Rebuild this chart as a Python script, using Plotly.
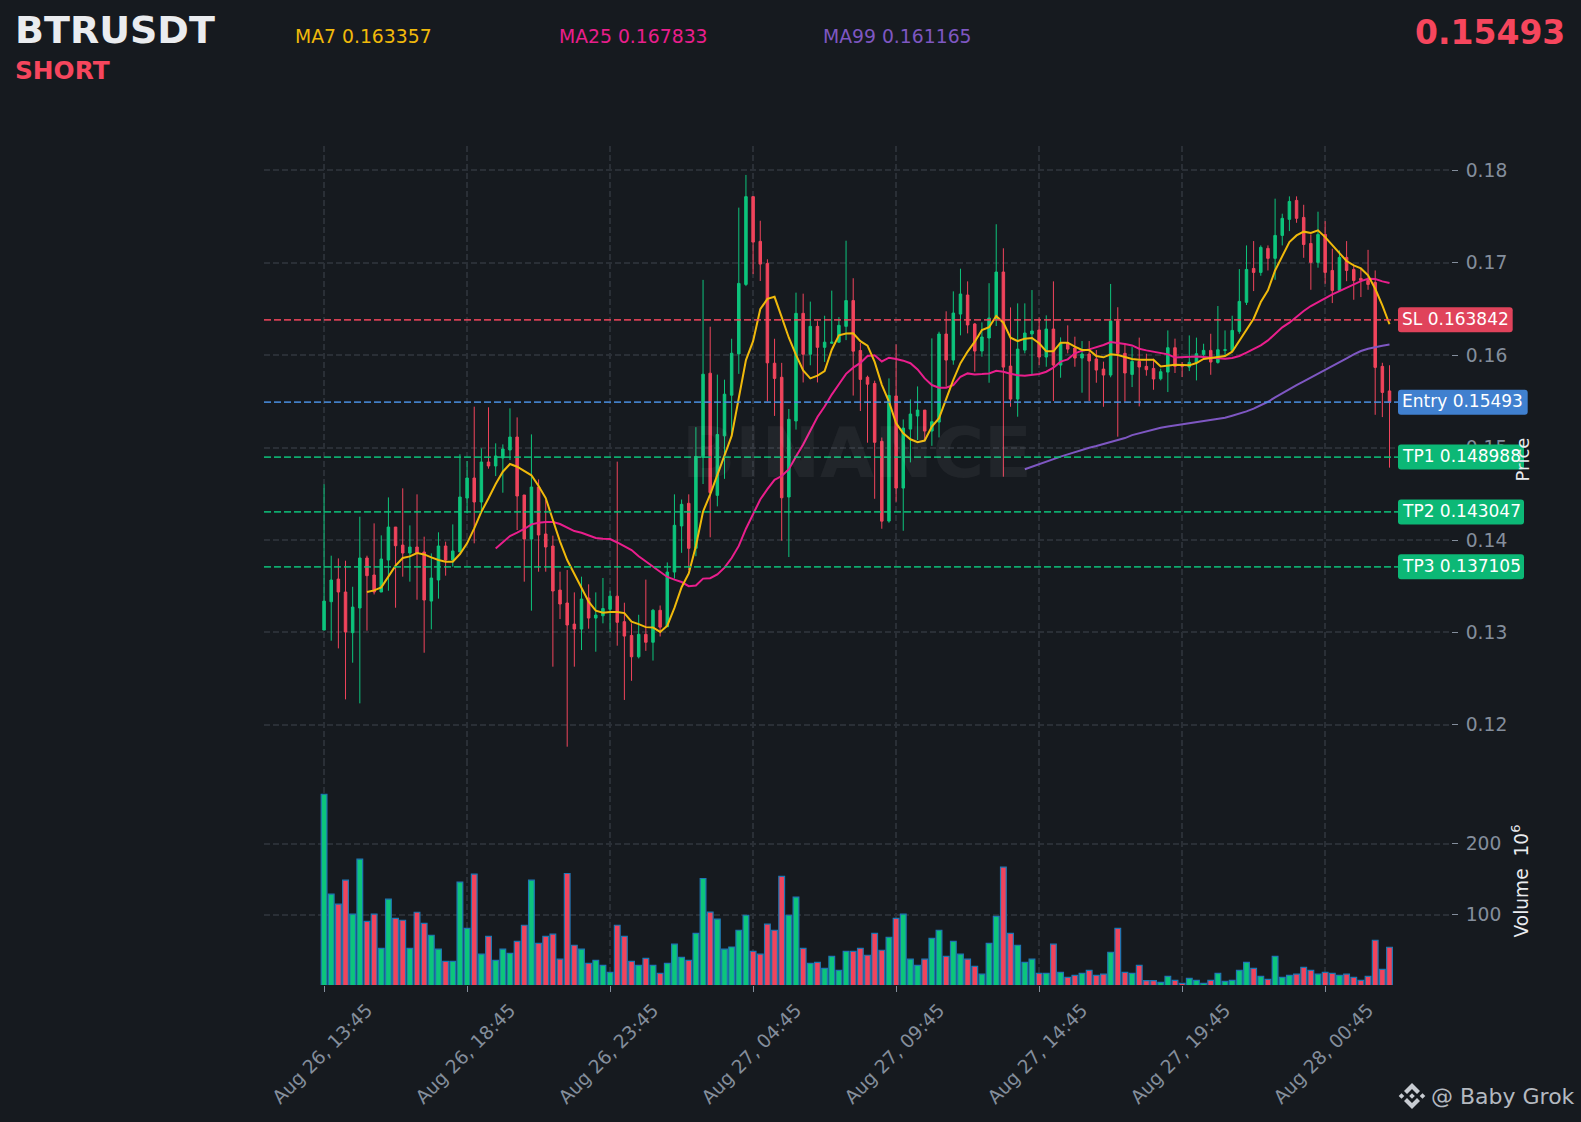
import plotly.graph_objs as go

W = 1581
H = 1122
BG = '#161A1F'
GREEN = '#0DC47C'
RED = '#F0445C'
GRID = '#2A2F36'
TICK = '#848E9C'
WHITE = '#EAECEF'

SYMBOL = 'BTRUSDT'
SIDE = 'SHORT'
LAST_PRICE = '0.15493'
SL = 0.163842
ENTRY = 0.15493
TP1 = 0.148988
TP2 = 0.143047
TP3 = 0.137105
MA7_LAST = '0.163357'
MA25_LAST = '0.167833'
MA99_LAST = '0.161165'

# one 15m candle per index
x_index = list(range(150))
x_ticks = [0, 20, 40, 60, 80, 100, 120, 140]
x_labels = ['Aug 26, 13:45', 'Aug 26, 18:45', 'Aug 26, 23:45', 'Aug 27, 04:45',
            'Aug 27, 09:45', 'Aug 27, 14:45', 'Aug 27, 19:45', 'Aug 28, 00:45']
price_ticks = [0.12, 0.13, 0.14, 0.15, 0.16, 0.17, 0.18]
volume_ticks = [100, 200]

opens = [
    .13026, .13333, .13578, .13438, .12998, .13265, .13806, .13622, .13438, .13784,
    .14141, .13946, .13860, .13925, .13871, .13340, .13568, .13936, .13784, .13871,
    .14455, .14672, .14412, .14845, .14802, .14888, .14975, .15115, .14488, .14011,
    .14574, .14066, .13936, .13459, .13319, .13091, .13037, .13373, .13156, .13181,
    .13251, .13393, .13117, .12968, .12737, .12980, .12894, .13240, .13062, .13654,
    .14153, .14398, .13911, .14894, .15806, .14484, .15128, .15568, .16015, .16767,
    .17717, .17233, .16994, .15914, .15762, .14466, .15289, .16454, .16011, .16313,
    .16086, .16130, .16142, .16313, .16592, .16052, .15762, .15695, .15069, .14206,
    .15560, .14563, .15201, .15343, .15407, .15180, .15277, .16230, .15948, .16446,
    .16652, .16339, .16046, .16187, .16392, .16901, .15883, .15526, .16056, .16230,
    .16274, .15981, .16284, .15894, .16133, .16078, .15970, .16014, .15960, .15851,
    .15786, .16372, .16021, .15793, .15934, .15880, .15858, .15746, .15818, .16082,
    .15901, .15873, .15923, .16010, .16053, .15923, .16053, .16053, .16259, .16573,
    .16940, .16897, .17157, .17049, .17297, .17471, .17676, .17492, .17210, .17005,
    .17308, .16918, .16702, .17059, .16929, .16832, .16810, .16788, .15880, .15614,
]
highs = [
    .14603, .13831, .13802, .13777, .13495, .14253, .13831, .14181, .14051, .14462,
    .14141, .14560, .14159, .14495, .14037, .13856, .14084, .13983, .14170, .14928,
    .14856, .15444, .14993, .15437, .15047, .15036, .15426, .15328, .14488, .15144,
    .14657, .14434, .14048, .13658, .13676, .13434, .13604, .13521, .13434, .13590,
    .13452, .14849, .13322, .13099, .13192, .13572, .13255, .13292, .13758, .14495,
    .14439, .14495, .15222, .16816, .16309, .15791, .15736, .16179, .17598, .17952,
    .17717, .17456, .17039, .16179, .15918, .15419, .16678, .16667, .16581, .16369,
    .16428, .16700, .16413, .17240, .16834, .16134, .15780, .15725, .15110, .15750,
    .16118, .15306, .15523, .15663, .15407, .16183, .16255, .16476, .16692, .16937,
    .16800, .16350, .16356, .16780, .17418, .17158, .16518, .16562, .16562, .16706,
    .16410, .16432, .16800, .16194, .16324, .16201, .16154, .16154, .16057, .15931,
    .16772, .16520, .16130, .16089, .16191, .16017, .15963, .15855, .16269, .16180,
    .15927, .16215, .16191, .16125, .16233, .16533, .16269, .16428, .16933, .17189,
    .17236, .17189, .17189, .17695, .17532, .17720, .17720, .17629, .17308, .17554,
    .17452, .17153, .17135, .17236, .16973, .16936, .17141, .16918, .15919, .15892,
]
lows = [
    .13026, .12911, .12828, .12276, .12673, .12233, .13019, .13412, .13438, .13452,
    .13268, .13604, .13550, .13355, .12781, .13034, .13366, .13615, .13712, .13871,
    .14289, .13965, .14307, .14773, .14693, .14513, .14867, .14109, .13550, .13236,
    .13658, .13658, .12630, .13145, .11764, .12630, .12810, .13041, .12792, .13099,
    .13006, .12857, .12270, .12477, .12719, .12801, .12696, .12957, .13062, .13583,
    .13862, .13676, .13825, .14607, .14030, .14365, .14663, .15128, .15799, .16749,
    .16879, .16804, .15501, .15344, .13993, .13817, .15196, .15706, .15892, .15706,
    .15929, .16130, .16134, .16164, .15564, .15397, .15054, .14447, .14123, .14188,
    .14415, .14101, .14841, .15083, .15083, .15020, .15111, .15660, .15898, .16216,
    .16237, .15822, .15985, .15703, .16317, .14686, .15443, .15335, .16021, .15797,
    .15894, .15876, .15505, .15757, .16021, .15876, .15595, .15505, .15703, .15443,
    .15762, .15119, .15498, .15656, .15447, .15779, .15627, .15728, .15602, .15808,
    .15764, .15829, .15728, .15963, .15789, .15909, .15992, .16046, .16233, .16544,
    .16695, .16861, .16918, .16817, .17189, .17344, .17434, .17055, .16709, .16948,
    .16774, .16565, .16695, .16802, .16601, .16630, .16709, .15356, .15331, .14784,
]
closes = [
    .13340, .13568, .13438, .13005, .13275, .13806, .13615, .13438, .13795, .14141,
    .13939, .13860, .13925, .13860, .13351, .13589, .13936, .13784, .13882, .14466,
    .14672, .14412, .14845, .14802, .14910, .14986, .15115, .14477, .14011, .14574,
    .14055, .13925, .13449, .13308, .13081, .13037, .13362, .13156, .13189, .13259,
    .13393, .13110, .12961, .12737, .12980, .12894, .13240, .13058, .13654, .14160,
    .14387, .13911, .14905, .15795, .14514, .15143, .15579, .16022, .16778, .17717,
    .17225, .16987, .15918, .15750, .14458, .15307, .16454, .16011, .16313, .16086,
    .16142, .16142, .16324, .16592, .16045, .15739, .15687, .15058, .14205, .15566,
    .14563, .15212, .15364, .15407, .15180, .15281, .16230, .15948, .16457, .16663,
    .16328, .16046, .16198, .16403, .16901, .15872, .15526, .16067, .16241, .16263,
    .15981, .16284, .15894, .16133, .16067, .15970, .16014, .15938, .15840, .15786,
    .16372, .16021, .15808, .15934, .15873, .15844, .15743, .15822, .16082, .15880,
    .15880, .15923, .16017, .16053, .15927, .16060, .16060, .16269, .16583, .16929,
    .16897, .17168, .17049, .17297, .17482, .17665, .17482, .17199, .17005, .17308,
    .16897, .16702, .17059, .16918, .16810, .16810, .16767, .15869, .15598, .15493,
]
volumes = [
    269, 129, 115, 148.6, 101, 178, 91, 101, 53, 122,
    95, 92.5, 53, 103.7, 88, 71.5, 52, 35, 35, 146,
    81, 157, 45, 70, 36.4, 52, 46, 63, 85.5, 148.6,
    60, 70, 73, 38, 158, 57.5, 52, 32, 36.4, 29.4,
    19.6, 85.5, 70, 35, 29.4, 39, 29.4, 18, 32, 59,
    40.6, 36.4, 74, 151, 104, 94, 52, 55, 78.5, 99.5,
    49, 45, 87, 78.5, 154, 99.5, 125, 53, 32, 33.6,
    25, 42, 22.4, 49, 49, 53, 43.5, 74, 50.5, 68.7,
    95, 101, 38, 29.4, 38, 67, 78.5, 42, 63, 45,
    38, 28, 17, 60, 98, 167, 74, 57.5, 33.6, 38,
    18, 18, 59, 19.6, 12.6, 15.4, 18, 22.4, 15.4, 17,
    47.7, 81, 19.6, 18, 29.4, 8, 8, 5.6, 14, 8.4,
    4.2, 11, 8.4, 4, 8.4, 18, 7, 8.4, 22.4, 33.6,
    25, 14, 9.8, 42, 12.6, 15.4, 17, 26.6, 22.4, 17,
    19.6, 18, 15.4, 17, 12.6, 8.4, 14, 64.5, 23.8, 54.7,
]
ma7_index = list(range(6, 150))
ma7 = [
    .13438, .13456, .13488, .13604, .13723, .13806, .13824, .13860, .13845, .13813,
    .13784, .13766, .13766, .13849, .13965, .14127, .14307, .14452, .14607, .14740,
    .14823, .14794, .14744, .14701, .14585, .14455, .14217, .13983, .13784, .13633,
    .13467, .13333, .13236, .13214, .13222, .13222, .13210, .13117, .13091, .13058,
    .13054, .13006, .13073, .13266, .13490, .13639, .13937, .14309, .14495, .14700,
    .14905, .15128, .15538, .15948, .16153, .16499, .16611, .16633, .16413, .16190,
    .16004, .15836, .15750, .15780, .15829, .16060, .16216, .16235, .16238, .16153,
    .16104, .15929, .15680, .15499, .15265, .15156, .15091, .15059, .15077, .15228,
    .15319, .15535, .15734, .15914, .16040, .16147, .16273, .16304, .16425, .16353,
    .16191, .16154, .16180, .16187, .16130, .16043, .16043, .16136, .16136, .16093,
    .16057, .16057, .15992, .15978, .16010, .16003, .15978, .15960, .15952, .15952,
    .15952, .15880, .15891, .15898, .15894, .15891, .15916, .15960, .15970, .15981,
    .15992, .16039, .16154, .16269, .16396, .16576, .16703, .16918, .17081, .17226,
    .17297, .17338, .17323, .17352, .17279, .17189, .17100, .17020, .16973, .16940,
    .16865, .16720, .16540, .163357,
]
ma25_index = list(range(24, 150))
ma25 = [
    .13910, .13972, .14044, .14080, .14120, .14170, .14188, .14195, .14195, .14174,
    .14134, .14098, .14080, .14051, .14022, .14015, .14011, .13974, .13937, .13892,
    .13825, .13769, .13721, .13657, .13601, .13572, .13546, .13501, .13508, .13583,
    .13587, .13628, .13702, .13806, .13937, .14123, .14290, .14439, .14551, .14652,
    .14693, .14767, .14905, .15035, .15184, .15333, .15445, .15575, .15687, .15799,
    .15866, .15918, .15993, .16000, .15933, .15974, .15959, .15942, .15914, .15847,
    .15750, .15678, .15650, .15650, .15678, .15768, .15804, .15793, .15797, .15804,
    .15833, .15822, .15800, .15783, .15779, .15786, .15797, .15822, .15866, .15931,
    .15956, .16021, .16050, .16064, .16086, .16112, .16144, .16136, .16122, .16107,
    .16071, .16053, .16039, .16024, .16010, .15977, .15981, .15992, .15988, .15981,
    .15974, .15966, .15963, .15970, .15992, .16028, .16064, .16107, .16161, .16233,
    .16302, .16353, .16421, .16479, .16533, .16576, .16616, .16659, .16695, .16731,
    .16770, .16803, .16828, .16825, .16800, .167833,
]
ma99_index = list(range(98, 150))
ma99 = [
    .14766, .14795, .14823, .14852, .14877, .14903, .14928, .14953, .14978, .15000,
    .15018, .15039, .15061, .15083, .15104, .15136, .15158, .15176, .15198, .15216,
    .15230, .15241, .15252, .15263, .15274, .15284, .15295, .15306, .15324, .15346,
    .15367, .15393, .15422, .15458, .15497, .15544, .15591, .15634, .15677, .15717,
    .15757, .15797, .15837, .15880, .15923, .15966, .16010, .16046, .16071, .16089,
    .16104, .161165,
]


def px(x):
    return x / W


def py(y):
    return 1 - y / H


def text(x, y, s, size, color, bold=False, anchor='left', angle=0):
    weight = 'bold' if bold else 'normal'
    return dict(x=px(x), y=py(y), xref='paper', yref='paper', text=s, showarrow=False,
                xanchor=anchor, yanchor='middle', textangle=angle, borderpad=0,
                font=dict(family='DejaVu Sans', size=size, color=color, weight=weight))


def rounded_box(x0, x1, y0, y1, color, r=3):
    xa, xb, ya, yb = px(x0), px(x1), py(y0), py(y1)
    rx, ry = r / W, r / H
    path = (f'M {xa + rx} {ya} L {xb - rx} {ya} Q {xb} {ya} {xb} {ya - ry} '
            f'L {xb} {yb + ry} Q {xb} {yb} {xb - rx} {yb} '
            f'L {xa + rx} {yb} Q {xa} {yb} {xa} {yb + ry} '
            f'L {xa} {ya - ry} Q {xa} {ya} {xa + rx} {ya} Z')
    return dict(type='path', path=path, xref='paper', yref='paper', fillcolor=color,
                line=dict(width=0), layer='above')


def poly(points, color):
    path = 'M ' + ' L '.join(f'{px(a)} {py(b)}' for a, b in points) + ' Z'
    return dict(type='path', path=path, xref='paper', yref='paper', fillcolor=color,
                line=dict(width=0), layer='above')


fig = go.Figure()
fig.add_trace(go.Candlestick(
    x=x_index, open=opens, high=highs, low=lows, close=closes, whiskerwidth=0,
    increasing=dict(fillcolor=GREEN, line=dict(color=GREEN, width=1)),
    decreasing=dict(fillcolor=RED, line=dict(color=RED, width=1)),
    xaxis='x', yaxis='y', hoverinfo='skip'))
fig.add_trace(go.Scatter(x=ma99_index, y=ma99, mode='lines', line=dict(color='#7E57C2', width=2), yaxis='y'))
fig.add_trace(go.Scatter(x=ma25_index, y=ma25, mode='lines', line=dict(color='#E91E8C', width=2), yaxis='y'))
fig.add_trace(go.Scatter(x=ma7_index, y=ma7, mode='lines', line=dict(color='#F0B90B', width=2), yaxis='y'))

bar_colors = [GREEN if c >= o else RED for o, c in zip(opens, closes)]
fig.add_trace(go.Bar(x=x_index, y=volumes, width=0.8, yaxis='y2',
                     marker=dict(color=bar_colors, line=dict(color='#1F77B4', width=1.2))))

levels = [(SL, '#F6465D'), (ENTRY, '#4A90E2'), (TP1, GREEN), (TP2, GREEN), (TP3, GREEN)]
shapes = []
for level, color in levels:
    shapes.append(dict(type='line', xref='x domain', yref='y', x0=0, x1=1, y0=level, y1=level, opacity=0.85,
                       line=dict(color=color, width=1.8, dash='7px,3px')))

# label boxes sit centred on their level line (pixel y = 447.7 + (0.15 - p) * 9240)
labels = [('SL', SL, '0.163842', 1512.7, '#E0435B'),
          ('Entry', ENTRY, '0.15493', 1527.7, '#4080CF'),
          ('TP1', TP1, '0.148988', 1524, '#0CB876'),
          ('TP2', TP2, '0.143047', 1524, '#0CB876'),
          ('TP3', TP3, '0.137105', 1524, '#0CB876')]
annotations = []
for name, level, value, right, color in labels:
    yc = 447.7 + (0.15 - level) * 9240
    shapes.append(rounded_box(1398, right, yc - 12.5, yc + 12.5, color))
    annotations.append(text(1400.5, yc - 1, f'{name} {value}', 17, '#FFFFFF'))

# binance logo in the corner
cx, cy = 1412, 1096
logo = '#C8CCD2'
shapes.append(poly([(cx, cy - 13), (cx + 8, cy - 5), (cx + 5, cy - 2), (cx, cy - 7), (cx - 5, cy - 2), (cx - 8, cy - 5)], logo))
shapes.append(poly([(cx, cy + 13), (cx + 8, cy + 5), (cx + 5, cy + 2), (cx, cy + 7), (cx - 5, cy + 2), (cx - 8, cy + 5)], logo))
for dx in [-10.5, 0, 10.5]:
    shapes.append(poly([(cx + dx, cy - 2.8), (cx + dx + 2.8, cy), (cx + dx, cy + 2.8), (cx + dx - 2.8, cy)], logo))

annotations += [
    text(13.5, 30, SYMBOL, 38, WHITE, bold=True),
    text(14, 71, SIDE, 24.8, '#F6465D', bold=True),
    text(293.5, 36.5, f'MA7 {MA7_LAST}', 18.8, '#F0B90B'),
    text(558, 36.5, f'MA25 {MA25_LAST}', 18.8, '#E91E8C'),
    text(822, 36.5, f'MA99 {MA99_LAST}', 18.8, '#7E57C2'),
    text(1566, 32, LAST_PRICE, 33, '#F6465D', bold=True, anchor='right'),
    text(857, 453, 'BINANCE', 70, 'rgba(255,255,255,0.05)', bold=True, anchor='center'),
    text(1522.5, 460, 'Price', 18, WHITE, anchor='center', angle=-90),
    text(1520, 881.5, 'Volume  10<sup>6</sup>', 18.6, WHITE, anchor='center', angle=-90),
    text(1429.5, 1096.5, '@ Baby Grok', 22, '#B4B9C0'),
]

grid = dict(showgrid=True, gridcolor=GRID, griddash='6px,3px', gridwidth=1.5, showline=False, zeroline=False,
            ticks='outside', ticklen=6, tickcolor=TICK, tickfont=dict(size=18.7, color=TICK))

fig.update_layout(
    width=W, height=H, margin=dict(l=0, r=0, t=0, b=0), autosize=False,
    paper_bgcolor=BG, plot_bgcolor=BG, showlegend=False, boxgap=0.5, bargap=0.2,
    font=dict(family='DejaVu Sans', color=TICK),
    shapes=shapes, annotations=annotations,
    xaxis=dict(domain=[px(264), px(1451)], anchor='y2', range=[-8.4, 157.6], rangeslider=dict(visible=False),
               tickmode='array', tickvals=x_ticks, ticktext=x_labels, tickangle=-45, ticklabelshift=43, **grid),
    yaxis=dict(domain=[py(760), py(146)], anchor='x', side='right', range=[0.1162, 0.18265],
               tickmode='array', tickvals=price_ticks, tickformat='.2f', ticklabelstandoff=4, **grid),
    yaxis2=dict(domain=[py(985), py(760)], anchor='x', side='right', range=[1.8, 317],
                tickmode='array', tickvals=volume_ticks, ticklabelstandoff=4, **grid),
)

fig.write_html("out.html", config={'displayModeBar': False},
               post_script="document.body.style.margin='0';document.body.style.background='" + BG + "';")
